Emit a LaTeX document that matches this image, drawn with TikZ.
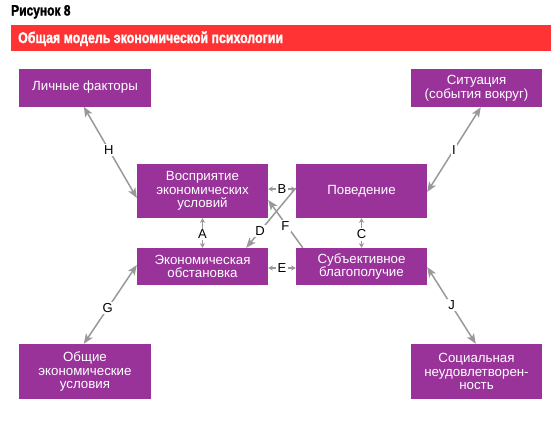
\documentclass[tikz,border=0pt]{standalone}
\usepackage{fontspec}
\setmainfont{Liberation Sans}
\newfontfamily\condfont[FakeStretch=0.8,FakeBold=1.5]{Liberation Sans Bold}
\usetikzlibrary{arrows.meta}
\definecolor{purp}{HTML}{993399}
\definecolor{barred}{HTML}{FF3333}
\definecolor{arrgray}{HTML}{999999}
\begin{document}
\begin{tikzpicture}[x=1pt,y=-1pt,
  box/.style={fill=purp,text=white,inner sep=0pt,align=center,font=\fontsize{13.3}{13.6}\selectfont},
  big/.style={draw=arrgray,line width=1.5pt,{Stealth[length=10pt,width=8pt,inset=2.5pt]}-{Stealth[length=10pt,width=8pt,inset=2.5pt]}},
  bigend/.style={draw=arrgray,line width=1.5pt,-{Stealth[length=10pt,width=8pt,inset=2.5pt]}},
  small/.style={draw=arrgray,line width=1.5pt,{Stealth[length=4.5pt,width=5pt,inset=1pt]}-{Stealth[length=4.5pt,width=5pt,inset=1pt]}},
  lbl/.style={fill=white,text=black,inner sep=1.5pt,font=\fontsize{13}{14}\selectfont}]
\useasboundingbox (0,0) rectangle (560,432);
% header
\node[anchor=base west,inner sep=0pt,font=\condfont\fontsize{15}{17}\selectfont] (fig) at (11,15.5) {Рисунок 8};
\node[fill=barred,minimum width=540pt,minimum height=26pt,inner sep=0pt,anchor=north west] (bar) at (11,25) {};
\node[anchor=base west,inner sep=0pt,text=white,font=\condfont\fontsize{15.5}{17}\selectfont] (title) at (18,43) {Общая модель экономической психологии};
% boxes
\node[box,minimum width=132pt,minimum height=38pt] (lf) at (85,87.5) {Личные факторы};
\node[box,minimum width=131pt,minimum height=38pt] (sit) at (476.5,88) {Ситуация\\(события вокруг)};
\node[box,minimum width=131pt,minimum height=54pt] (vos) at (202.5,191) {Восприятие\\экономических\\условий};
\node[box,minimum width=131pt,minimum height=54pt] (pov) at (361.5,191) {Поведение};
\node[box,minimum width=131pt,minimum height=37pt] (eco) at (202.5,266.5) {Экономическая\\обстановка};
\node[box,minimum width=131pt,minimum height=37pt] (sub) at (361.5,266.5) {Субъективное\\благополучие};
\node[box,minimum width=132pt,minimum height=55pt] (obs) at (85,371.5) {Общие\\экономические\\условия};
\node[box,minimum width=131pt,minimum height=55pt] (soc) at (476.5,371.5) {Социальная\\неудовлетворен-\\ность};
% connectors
\draw[big] ([xshift=65pt]lf.south west) -- node[lbl,pos=0.47] (lH) {H} ([yshift=-7pt]vos.west);
\draw[big] ([xshift=70pt]sit.south west) -- node[lbl,pos=0.5] (lI) {I} ([yshift=-1pt]pov.east);
\draw[big] ([yshift=1.5pt]eco.west) -- node[lbl,pos=0.55] (lG) {G} ([xshift=65pt]obs.north west);
\draw[big] ([yshift=-0.5pt]sub.east) -- node[lbl,pos=0.5] (lJ) {J} ([xshift=65pt]soc.north west);
\draw[small] (vos.south) -- node[lbl,pos=0.55] (lA) {A} (eco.north);
\draw[small] ([yshift=2pt]vos.east) -- node[lbl] (lB) {B} ([yshift=2pt]pov.west);
\draw[small] (sub.north) -- node[lbl,pos=0.45] (lC) {C} (pov.south);
\draw[small] ([yshift=-1.5pt]eco.east) -- node[lbl] (lE) {E} ([yshift=-1.5pt]sub.west);
\draw[bigend] ([yshift=3pt]pov.west) -- node[lbl,pos=0.72] (lD) {D} ([xshift=-22pt]eco.north east);
\draw[bigend] ([xshift=7pt]sub.north west) -- node[lbl,pos=0.45,xshift=-2pt] (lF) {F} ([yshift=-9pt]vos.east);
\end{tikzpicture}
\end{document}
